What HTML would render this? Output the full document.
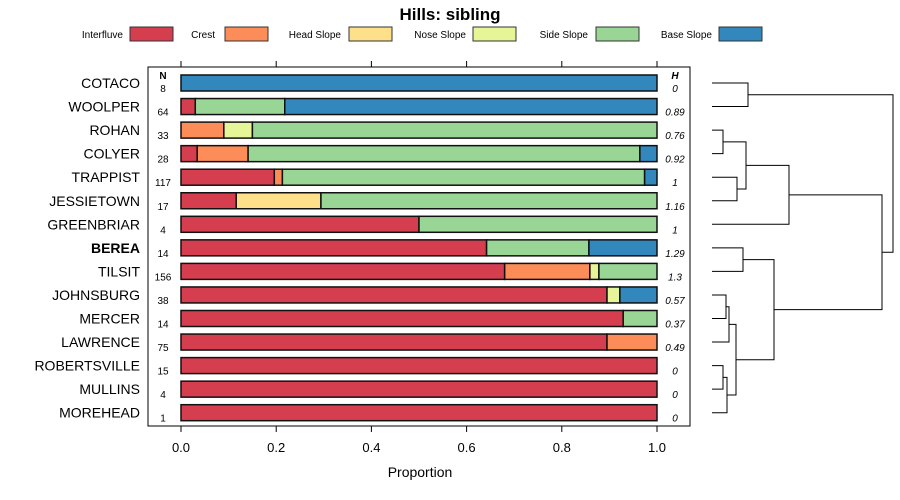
<!DOCTYPE html>
<html><head><meta charset="utf-8"><style>
body{margin:0;background:#fff;}
svg{display:block;font-family:"Liberation Sans",sans-serif;}
</style></head><body>
<svg id="c" width="900" height="500"></svg>
<script>
const classes=["Interfluve","Crest","Head Slope","Nose Slope","Side Slope","Base Slope"];
const colors=["#D53E4F","#FC8D59","#FEE08B","#E6F598","#99D594","#3288BD"];
const series=["COTACO","WOOLPER","ROHAN","COLYER","TRAPPIST","JESSIETOWN","GREENBRIAR","BEREA","TILSIT","JOHNSBURG","MERCER","LAWRENCE","ROBERTSVILLE","MULLINS","MOREHEAD"];
const nVals=[8,64,33,28,117,17,4,14,156,38,14,75,15,4,1];
const hVals=["0","0.89","0.76","0.92","1","1.16","1","1.29","1.3","0.57","0.37","0.49","0","0","0"];
const props=[
[0,0,0,0,0,1],
[0.03,0,0,0,0.188,0.782],
[0,0.09,0,0.06,0.85,0],
[0.034,0.107,0,0,0.823,0.036],
[0.196,0.017,0,0,0.761,0.026],
[0.116,0,0.178,0,0.706,0],
[0.5,0,0,0,0.5,0],
[0.642,0,0,0,0.215,0.143],
[0.68,0.179,0,0.019,0.122,0],
[0.895,0,0,0.027,0,0.078],
[0.929,0,0,0,0.071,0],
[0.895,0.105,0,0,0,0],
[1,0,0,0,0,0],[1,0,0,0,0,0],[1,0,0,0,0,0]];
const xTicks=[0,0.2,0.4,0.6,0.8,1.0];
const xTickLabels=["0.0","0.2","0.4","0.6","0.8","1.0"];
// dendrogram merges: [a,b,height]; negative = leaf index, positive = merge id (1-based)
const merges=[[-0,-1,0.36],[-2,-3,0.11],[-4,-5,0.25],[2,3,0.34],[4,-6,0.77],[-7,-8,0.31],[-9,-10,0.14],[7,-11,0.17],[-12,-13,0.11],[9,-14,0.15],[8,10,0.24],[6,11,0.62],[5,12,1.7],[1,13,1.81]];
const S="http://www.w3.org/2000/svg",svg=document.getElementById('c');
function el(t,a,p){const e=document.createElementNS(S,t);for(const k in a)e.setAttribute(k,a[k]);(p||svg).appendChild(e);return e;}
const x=v=>181+v*476;
const y=i=>83+i*23.55;
const t=el('text',{x:450,y:20,'text-anchor':'middle','font-size':17,'font-weight':'bold'});t.textContent="Hills: sibling";


const legX=[[123,130],[215,225],[341,349],[466,473],[588,596],[712,719]];
classes.forEach((c,i)=>{
 const g=el('g',{});
 
 
 const tx=el('text',{x:legX[i][0],y:38,'text-anchor':'end','font-size':10},g);tx.textContent=c;
 el('rect',{x:legX[i][1],y:27,width:43,height:14,fill:colors[i],stroke:'#333','stroke-width':1},g);
});
const fr=el('rect',{x:148,y:67,width:542,height:359,fill:'none',stroke:'#000','stroke-width':1});


xTicks.forEach((v,i)=>{
 el('line',{x1:x(v),x2:x(v),y1:426,y2:432,stroke:'#000'});
 el('line',{x1:x(v),x2:x(v),y1:61,y2:67,stroke:'#000'});
 const tl=el('text',{x:x(v),y:452,'text-anchor':'middle','font-size':13});tl.textContent=xTickLabels[i];
 
 
});
const xt=el('text',{x:420,y:477,'text-anchor':'middle','font-size':14});xt.textContent="Proportion";


let hn=el('text',{x:163,y:79,'text-anchor':'middle','font-size':10,'font-weight':'bold'});hn.textContent="N";
let hh=el('text',{x:675,y:79,'text-anchor':'middle','font-size':10,'font-weight':'bold','font-style':'italic'});hh.textContent="H";
series.forEach((s,i)=>{
 const cy=y(i);
 const lb=el('text',{x:140,y:cy+5,'text-anchor':'end','font-size':14,'font-weight':s==="BEREA"?'bold':'normal'});lb.textContent=s;
 
 
 const n=el('text',{x:163,y:cy+9,'text-anchor':'middle','font-size':10});n.textContent=nVals[i];
 const h=el('text',{x:675,y:cy+9,'text-anchor':'middle','font-size':10,'font-style':'italic'});h.textContent=hVals[i];
 let cum=0;
 props[i].forEach((p,k)=>{
  if(p<=0)return;
  const r=el('rect',{x:x(cum),y:cy-8,width:x(cum+p)-x(cum),height:16,fill:colors[k],stroke:'#111','stroke-width':1.5});
  
  
  cum+=p;
 });
});
// dendrogram
const dx=h=>712+h*100;
const nodes=[];
function pos(id){return id<=0&&!(id>0)?(Object.is(id,-0)||id<0?{x:712,y:y(-id)}:null):nodes[id-1];}
merges.forEach(m=>{
 const a=m[0]>0?nodes[m[0]-1]:{x:712,y:y(-m[0])};
 const b=m[1]>0?nodes[m[1]-1]:{x:712,y:y(-m[1])};
 const hx=dx(m[2]);
 const p=el('path',{d:`M${a.x},${a.y}H${hx}V${b.y}H${b.x}`,fill:'none',stroke:'#000','stroke-width':1});
 
 
 nodes.push({x:hx,y:(a.y+b.y)/2});
});
</script>
</body></html>
